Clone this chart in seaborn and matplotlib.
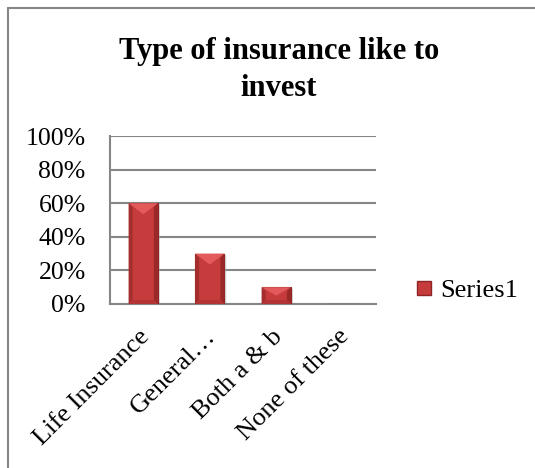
import matplotlib
matplotlib.use("Agg")
import matplotlib.pyplot as plt
from matplotlib.patches import Polygon
from matplotlib.lines import Line2D
from matplotlib.ticker import PercentFormatter
import matplotlib.transforms as mtransforms
import seaborn as sns
import pandas as pd

categories = ["Life Insurance", "General…", "Both a & b", "None of these"]
values = [0.60, 0.30, 0.10, 0.0]
series_name = "Series1"
title = "Type of insurance like to\ninvest"
yticks = [0, 0.2, 0.4, 0.6, 0.8, 1.0]

sns.set_theme(style="white")
plt.rcParams["font.family"] = ["Liberation Serif", "DejaVu Serif"]
plt.rcParams["text.color"] = "black"

W, H = 535, 468
fig = plt.figure(figsize=(W / 100, H / 100), dpi=100)
ax = fig.add_axes([110 / W, 1 - 304 / H, 266 / W, 168 / H])

df = pd.DataFrame({"cat": categories, "val": values})
body = "#C63C3C"
sns.barplot(data=df, x="cat", y="val", ax=ax, color=body, width=0.44,
            saturation=1, edgecolor="#8E2424", linewidth=0.8, zorder=3)

ax.set_ylim(0, 1.0)
ax.set_xlim(-0.5, len(categories) - 0.5)
ax.set_yticks(yticks)
ax.yaxis.set_major_formatter(PercentFormatter(1.0, decimals=0))
ax.grid(axis="y", color="#868686", linewidth=1.5, zorder=0)
ax.grid(axis="x", visible=False)
ax.set_xlabel("")
ax.set_ylabel("")
for s in ["top", "right"]:
    ax.spines[s].set_visible(False)
for s in ["left", "bottom"]:
    ax.spines[s].set_color("#868686")
    ax.spines[s].set_linewidth(1.5)
ax.tick_params(axis="y", length=0, labelsize=18.5, pad=17.5, colors="black")
ax.tick_params(axis="x", length=0, labelsize=19, pad=4, colors="black")
ax.set_xticks(range(len(categories)))
ax.set_xticklabels(categories, rotation=45, ha="right", rotation_mode="anchor")
off = mtransforms.ScaledTranslation(-5 / 100, -16 / 100, fig.dpi_scale_trans)
for lab in ax.get_xticklabels():
    lab.set_transform(lab.get_transform() + off)

# bevel overlays derived from bar geometry
fig.canvas.draw()
inv = ax.transData.inverted()
for p in ax.patches:
    bx, by = p.get_x(), p.get_y()
    bw, bh = p.get_width(), p.get_height()
    if bh <= 0:
        continue
    (px0, py0) = ax.transData.transform((bx, by))
    (px1, py1) = ax.transData.transform((bx + bw, by + bh))
    hpx = py1 - py0
    d = min(11.0, hpx / 2)
    e = 4.0

    def D(x, y):
        return inv.transform((x, y))

    ax.add_patch(Polygon([D(px0, py0), D(px0 + e, py0 + e), D(px0 + e, py1 - e), D(px0, py1)],
                         closed=True, facecolor="#A42E2E", edgecolor="none", zorder=4))
    ax.add_patch(Polygon([D(px1, py0), D(px1 - e, py0 + e), D(px1 - e, py1 - e), D(px1, py1)],
                         closed=True, facecolor="#9A2828", edgecolor="none", zorder=4))
    ax.add_patch(Polygon([D(px0, py0), D(px1, py0), D(px1 - e, py0 + e), D(px0 + e, py0 + e)],
                         closed=True, facecolor="#B23434", edgecolor="none", zorder=4))
    cx = (px0 + px1) / 2
    ax.add_patch(Polygon([D(px0, py1), D(px1, py1), D(cx, py1 - d)],
                         closed=True, facecolor="#E25A5A", edgecolor="none", zorder=5))
    ax.add_patch(Polygon([D(px1, py0), D(px1 + 2, py0 - 1), D(px1 + 2, py1 - 2), D(px1, py1)],
                         closed=True, facecolor="#B0B0B0", edgecolor="none", alpha=0.5, zorder=2))

# title
fig.text(279 / W, 1 - 70 / H, title, ha="center", va="center", fontsize=22,
         fontweight="bold", linespacing=1.33, color="black")

# legend
handle = Line2D([], [], marker="s", linestyle="none", markersize=10,
                markerfacecolor=body, markeredgecolor="#8E2424")
fig.legend([handle], [series_name], loc="center left",
           bbox_to_anchor=(411 / W, 1 - 290 / H), frameon=False, fontsize=19,
           handletextpad=0.1, borderaxespad=0, handlelength=1.0, borderpad=0)

# chart border
fig.add_artist(Line2D([8 / W, 1], [1 - 8 / H, 1 - 8 / H], color="#868686", linewidth=1.5,
                      transform=fig.transFigure))
fig.add_artist(Line2D([8 / W, 8 / W], [0, 1 - 8 / H], color="#868686", linewidth=1.5,
                      transform=fig.transFigure))

fig.savefig("out.png", dpi=100, facecolor="white")
